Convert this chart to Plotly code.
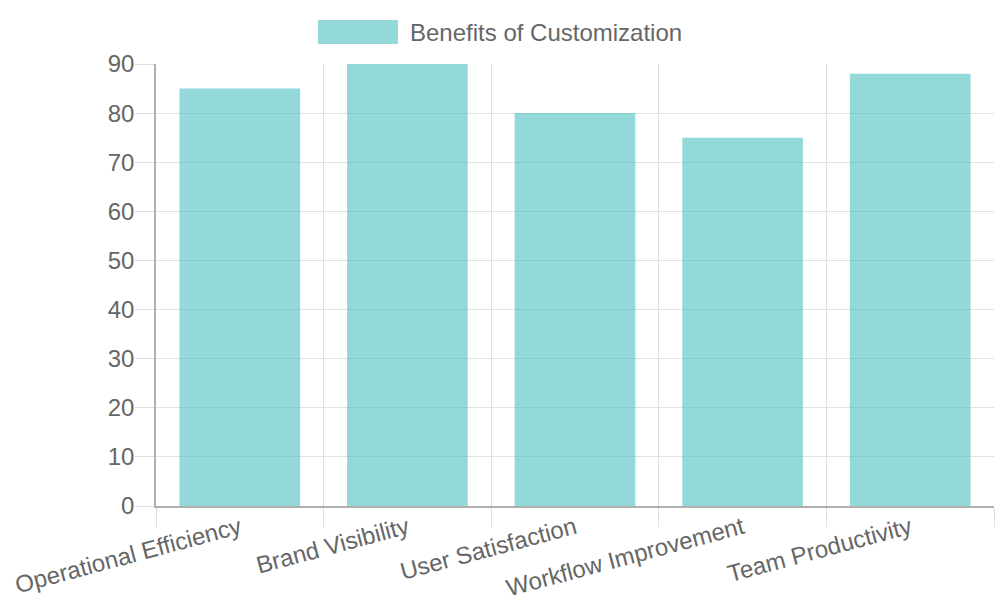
import plotly.graph_objects as go

categories = ["Operational Efficiency", "Brand Visibility", "User Satisfaction",
              "Workflow Improvement", "Team Productivity"]
values = [85, 90, 80, 75, 88]
series_name = "Benefits of Customization"
y_ticks = [0, 10, 20, 30, 40, 50, 60, 70, 80, 90]

FONT = "Liberation Sans, Arial, sans-serif"
TXT = "#666666"
FILL = "rgba(75,192,192,0.6)"
FS = 24

fig = go.Figure()
fig.add_trace(go.Bar(
    x=categories, y=values, name=series_name,
    marker=dict(color=FILL, line=dict(width=0)),
    showlegend=False,
))

fig.update_layout(
    width=1000, height=600,
    margin=dict(l=156, r=6, t=64, b=94, autoexpand=False),
    paper_bgcolor="white", plot_bgcolor="white",
    font=dict(family=FONT, color=TXT, size=FS),
    bargap=0.28,
    xaxis=dict(
        type="category", tickson="boundaries", automargin=False,
        showgrid=True, gridcolor="#dedede", gridwidth=1,
        ticks="outside", ticklen=19, tickcolor="#dedede", tickwidth=1,
        showline=True, linecolor="#b0b0b0", linewidth=1.5,
        tickangle=-15, tickfont=dict(size=FS, color=TXT),
        range=[-0.5, 4.5], ticklabelstandoff=-3,
    ),
    yaxis=dict(
        range=[0, 90], tickvals=y_ticks, automargin=False,
        showgrid=True, gridcolor="#e2e2e2", gridwidth=1,
        ticks="outside", ticklen=19, tickcolor="#e0e0e0", tickwidth=1,
        showline=True, linecolor="#b0b0b0", linewidth=1.5,
        zeroline=False, tickfont=dict(size=FS, color=TXT),
        ticklabelstandoff=-4,
    ),
)

# legend (Chart.js style) drawn as box + label
fig.add_shape(type="rect", xref="paper", yref="paper",
              x0=(318 - 156) / 838, x1=(398 - 156) / 838,
              y0=(506 - 44) / 442, y1=(506 - 20) / 442,
              fillcolor=FILL, line=dict(width=0))
fig.add_annotation(text=series_name, xref="paper", yref="paper",
                   x=(408 - 156) / 838, y=(506 - 32) / 442,
                   xanchor="left", yanchor="middle", showarrow=False,
                   font=dict(size=FS, color=TXT, family=FONT))

fig.write_html("out.html")
